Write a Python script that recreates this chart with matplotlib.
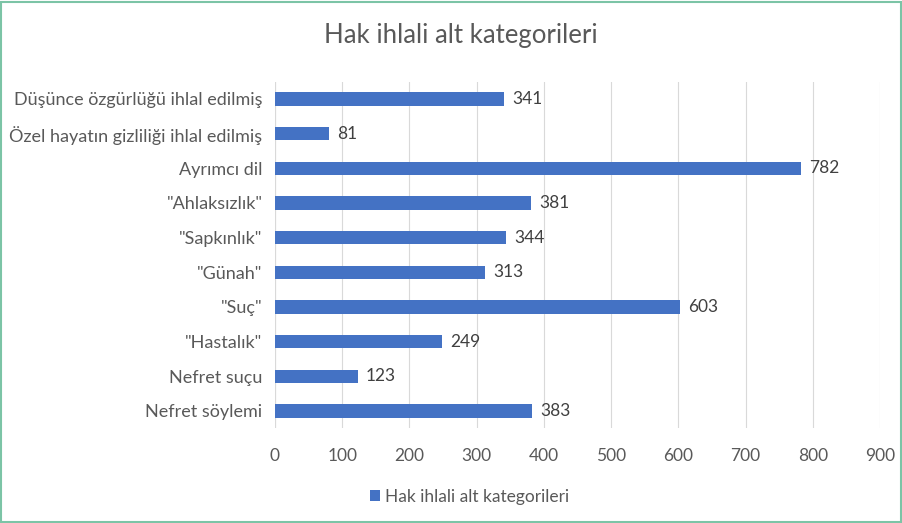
import matplotlib
matplotlib.use("Agg")
import matplotlib.pyplot as plt
from matplotlib.patches import Rectangle

categories = [
    "Düşünce özgürlüğü ihlal edilmiş",
    "Özel hayatın gizliliği ihlal edilmiş",
    "Ayrımcı dil",
    "\"Ahlaksızlık\"",
    "\"Sapkınlık\"",
    "\"Günah\"",
    "\"Suç\"",
    "\"Hastalık\"",
    "Nefret suçu",
    "Nefret söylemi",
]
values = [341, 81, 782, 381, 344, 313, 603, 249, 123, 383]
xticks = [0, 100, 200, 300, 400, 500, 600, 700, 800, 900]
series_name = "Hak ihlali alt kategorileri"

plt.rcParams['font.family'] = ['Lato', 'DejaVu Sans']
text_color = '#595959'
bar_color = '#4472C4'

fig = plt.figure(figsize=(9.03, 5.23), dpi=100)
ax = fig.add_axes([0.3045, 0.181, 0.67, 0.663])

pos = list(range(len(categories)))
bars = ax.barh(pos, values, height=0.38, color=bar_color, label=series_name, zorder=3)
ax.set_ylim(len(categories) - 0.5, -0.5)
ax.set_yticks(pos)
ax.set_yticklabels(categories, fontsize=13, color=text_color)
ax.set_xlim(0, 900)
ax.set_xticks(xticks)
ax.set_xticklabels([str(t) for t in xticks], fontsize=12.5, color=text_color)
ax.tick_params(length=0, pad=9)
ax.tick_params(axis='x', pad=14)
ax.grid(axis='x', color='#d9d9d9', linewidth=0.8, zorder=0)
for s in ax.spines.values():
    s.set_visible(False)
ax.axvline(0, color='#d9d9d9', linewidth=0.8, zorder=1)

for b, v in zip(bars, values):
    ax.text(b.get_width() + 12, b.get_y() + b.get_height() / 2, str(v),
            va='center', ha='left', fontsize=12.5, color='#404040')

fig.text(0.51, 0.933, series_name, ha='center', va='center', fontsize=18.5, color=text_color)

fig.legend(loc='center', bbox_to_anchor=(0.52, 0.05), frameon=False, fontsize=12.5,
           handlelength=0.6, handleheight=0.6, handletextpad=0.3, labelcolor=text_color)

fig.patches.append(Rectangle((0.001, 0.002), 0.997, 0.995, transform=fig.transFigure,
                             fill=False, edgecolor='#7cc4a6', linewidth=1.5))

fig.savefig("out.png", dpi=100)
